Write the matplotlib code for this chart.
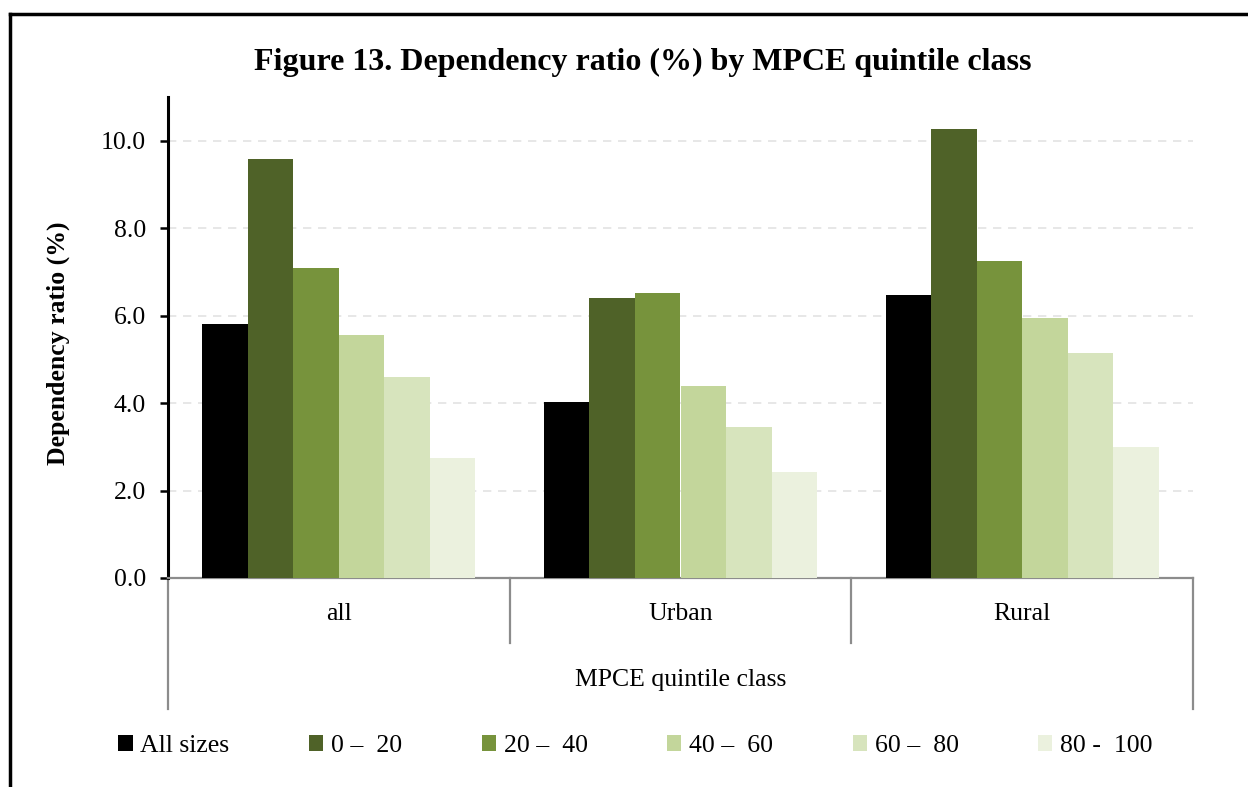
import numpy as np
import matplotlib.pyplot as plt
from matplotlib.lines import Line2D
import matplotlib.transforms as mtransforms

plt.rcParams['font.family'] = ['Liberation Serif', 'DejaVu Serif']

groups = ['all', 'Urban', 'Rural']
series = ['All sizes', '0 \u2013  20', '20 \u2013  40', '40 \u2013  60', '60 \u2013  80', '80 -  100']
colors = ['#000000', '#4F6228', '#77933C', '#C3D69B', '#D7E4BD', '#EBF1DE']

all_sizes = [5.80, 4.03, 6.48]
q0_20 = [9.59, 6.41, 10.27]
q20_40 = [7.09, 6.52, 7.25]
q40_60 = [5.56, 4.39, 5.95]
q60_80 = [4.60, 3.46, 5.15]
q80_100 = [2.75, 2.43, 3.00]

values = [all_sizes, q0_20, q20_40, q40_60, q60_80, q80_100]
yticks = [0, 2, 4, 6, 8, 10]

fig = plt.figure(figsize=(12.48, 7.87), dpi=100)
ax = fig.add_axes([168/1248, 1-578/787, (1193-168)/1248, (578-97)/787])

x = np.arange(len(groups))
w = 1/7.5
for i in range(len(series)):
    ax.bar(x + (i - 2.5)*w, values[i], w, color=colors[i], label=series[i], zorder=3)

ax.set_xlim(-0.5, 2.5)
ax.set_ylim(0, 11)
ax.set_yticks(yticks)
ax.set_yticklabels(['%.1f' % t for t in yticks], fontsize=18.5)
ax.set_xticks([])
ax.yaxis.grid(True, linestyle=(0, (5, 4)), color='#E3E3E3', linewidth=1.2, zorder=0)
ax.tick_params(axis='y', length=6, width=1.8, pad=10, color='black')

for s in ['top', 'right']:
    ax.spines[s].set_visible(False)
ax.spines['left'].set_linewidth(2.2)
ax.spines['left'].set_color('black')
ax.spines['bottom'].set_linewidth(1.6)
ax.spines['bottom'].set_color('#8C8C8C')

# category box lines below the axis
trans = mtransforms.blended_transform_factory(ax.transData, ax.transAxes)
for xv, yb in [(-0.5, -0.272), (0.5, -0.135), (1.5, -0.135), (2.5, -0.272)]:
    ax.plot([xv, xv], [0, yb], color='#8C8C8C', linewidth=1.6, transform=trans, clip_on=False)
for i in range(len(groups)):
    ax.text(x[i], -0.075, groups[i], transform=trans, ha='center', va='center', fontsize=18.5)
ax.text(1, -0.212, 'MPCE quintile class', transform=trans, ha='center', va='center', fontsize=18.5)

fig.text(0.515, 1-62/787, 'Figure 13. Dependency ratio (%) by MPCE quintile class',
         ha='center', va='center', fontsize=23, fontweight='bold')
fig.text(58/1248, 1-343/787, 'Dependency ratio (%)', rotation=90, ha='center', va='center',
         fontsize=18.5, fontweight='bold')

ax.legend(loc='center', bbox_to_anchor=(0.5 - 45/1025, (578-746)/481), ncol=6, frameon=False,
          fontsize=18.5, handlelength=0.55, handleheight=0.55, handletextpad=0.3,
          columnspacing=3.1)

# outer frame
fig.add_artist(Line2D([10/1248, 1], [1-14/787, 1-14/787], color='black', linewidth=2.5))
fig.add_artist(Line2D([10/1248, 10/1248], [0, 1-14/787], color='black', linewidth=2.5))

fig.savefig('out.png', dpi=100)
